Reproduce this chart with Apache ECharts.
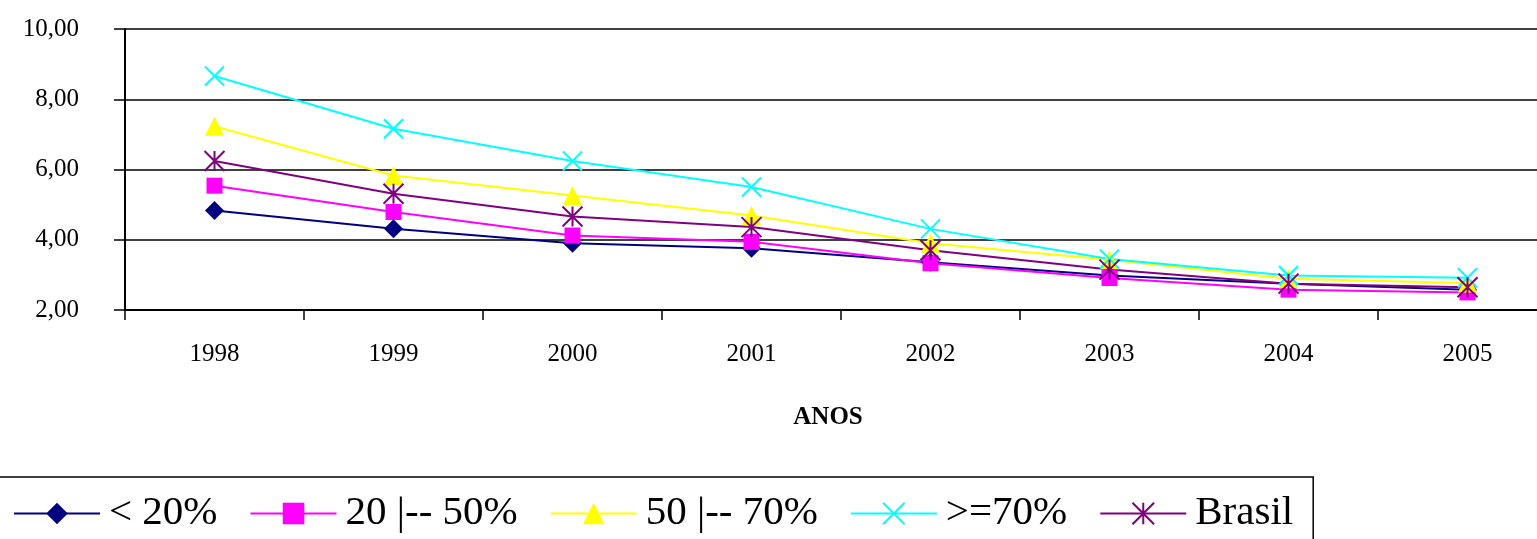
<!DOCTYPE html>
<html>
<head>
<meta charset="utf-8">
<script src="https://cdn.jsdelivr.net/npm/echarts@6/dist/echarts.min.js"></script>
<style>
html,body{margin:0;padding:0;background:#fff;overflow:hidden;}
#chart{width:1537px;height:539px;}
</style>
</head>
<body>
<div id="chart"></div>
<script>
const categories = ['1998','1999','2000','2001','2002','2003','2004','2005'];
const seriesNames = ['< 20%','20 |-- 50%','50 |-- 70%','>=70%','Brasil'];
const lt20 = [4.83, 4.31, 3.90, 3.76, 3.36, 2.98, 2.75, 2.58];
const s20to50 = [5.54, 4.79, 4.12, 3.94, 3.33, 2.91, 2.58, 2.50];
const s50to70 = [7.23, 5.83, 5.26, 4.69, 3.90, 3.43, 2.89, 2.77];
const ge70 = [8.66, 7.16, 6.24, 5.50, 4.31, 3.45, 2.98, 2.92];
const brasil = [6.24, 5.31, 4.66, 4.36, 3.70, 3.15, 2.75, 2.65];
const yTicks = [2, 4, 6, 8, 10];

const FONT = '"Liberation Serif","Times New Roman",serif';
const X_PATH = 'path://M0 0 L10 10 M10 0 L0 10';
const STAR_PATH = 'path://M0 0 L10 10 M10 0 L0 10 M5 0 L5 10';

function mk(name, data, color, symbol, size, isStroke) {
  return {
    name: name,
    type: 'line',
    data: data,
    symbol: symbol,
    symbolSize: size,
    showSymbol: true,
    animation: false,
    lineStyle: { color: color, width: 2 },
    itemStyle: isStroke
      ? { color: 'rgba(0,0,0,0)', borderColor: color, borderWidth: 2 }
      : { color: color, borderWidth: 0 },
    emphasis: { disabled: true }
  };
}

const chart = echarts.init(document.getElementById('chart'), null, { renderer: 'canvas' });
chart.setOption({
  backgroundColor: '#fff',
  animation: false,
  textStyle: { fontFamily: FONT },
  grid: { left: 125, top: 29, bottom: 229, right: -20, containLabel: false, outerBoundsMode: 'none' },
  legend: {
    data: seriesNames,
    left: -7,
    top: 477,
    orient: 'horizontal',
    itemWidth: 86,
    itemHeight: 27,
    itemGap: 32,
    padding: [16, 20, 16, 20],
    borderColor: '#000',
    borderWidth: 1.5,
    textStyle: { fontFamily: FONT, fontSize: 41, color: '#000', padding: [0, 0, 0, 4] },
    selectedMode: false
  },
  xAxis: {
    type: 'category',
    data: categories,
    boundaryGap: true,
    name: 'ANOS',
    nameLocation: 'middle',
    nameGap: 95,
    nameTextStyle: { fontFamily: FONT, fontSize: 25, fontWeight: 'bold', color: '#000', padding: [0, 26, 0, 0] },
    axisLine: { show: true, lineStyle: { color: '#000', width: 2 } },
    axisTick: { show: true, length: 10, lineStyle: { color: '#000', width: 1.5 } },
    axisLabel: { fontFamily: FONT, fontSize: 25, color: '#000', margin: 32 },
    splitLine: { show: false }
  },
  yAxis: {
    type: 'value',
    min: yTicks[0],
    max: yTicks[yTicks.length - 1],
    interval: 2,
    axisLine: { show: true, lineStyle: { color: '#000', width: 2 } },
    axisTick: { show: true, length: 11, lineStyle: { color: '#000', width: 1.5 } },
    axisLabel: {
      fontFamily: FONT, fontSize: 25, color: '#000', margin: 46,
      formatter: function (v) { return v.toFixed(2).replace('.', ','); }
    },
    splitLine: { show: true, lineStyle: { color: '#000', width: 1.5 } }
  },
  series: [
    mk(seriesNames[0], lt20, '#000080', 'diamond', 19, false),
    mk(seriesNames[1], s20to50, '#FF00FF', 'rect', 16, false),
    mk(seriesNames[2], s50to70, '#FFFF00', 'triangle', 19, false),
    mk(seriesNames[3], ge70, '#00FFFF', X_PATH, 19, true),
    mk(seriesNames[4], brasil, '#800080', STAR_PATH, 20, true)
  ]
});
</script>
</body>
</html>
